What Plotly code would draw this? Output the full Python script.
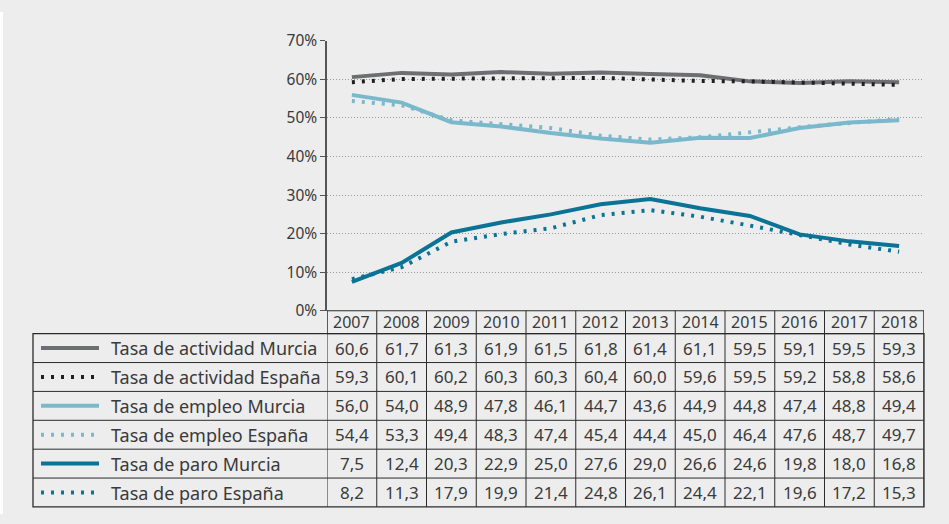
import plotly.graph_objects as go

years = ["2007", "2008", "2009", "2010", "2011", "2012", "2013", "2014", "2015", "2016", "2017", "2018"]

actividad_murcia = [60.6, 61.7, 61.3, 61.9, 61.5, 61.8, 61.4, 61.1, 59.5, 59.1, 59.5, 59.3]
actividad_espana = [59.3, 60.1, 60.2, 60.3, 60.3, 60.4, 60.0, 59.6, 59.5, 59.2, 58.8, 58.6]
empleo_murcia = [56.0, 54.0, 48.9, 47.8, 46.1, 44.7, 43.6, 44.9, 44.8, 47.4, 48.8, 49.4]
empleo_espana = [54.4, 53.3, 49.4, 48.3, 47.4, 45.4, 44.4, 45.0, 46.4, 47.6, 48.7, 49.7]
paro_murcia = [7.5, 12.4, 20.3, 22.9, 25.0, 27.6, 29.0, 26.6, 24.6, 19.8, 18.0, 16.8]
paro_espana = [8.2, 11.3, 17.9, 19.9, 21.4, 24.8, 26.1, 24.4, 22.1, 19.6, 17.2, 15.3]

series = [
    ("Tasa de actividad Murcia", actividad_murcia, "#6d6e71", "solid"),
    ("Tasa de actividad España", actividad_espana, "#231f20", "3px,7px"),
    ("Tasa de empleo Murcia", empleo_murcia, "#7ab8cc", "solid"),
    ("Tasa de empleo España", empleo_espana, "#7ab8cc", "3px,7px"),
    ("Tasa de paro Murcia", paro_murcia, "#0a7396", "solid"),
    ("Tasa de paro España", paro_espana, "#0a7396", "3px,7px"),
]

W, H = 949, 524
# the captured page comes out shifted down and squeezed a bit vertically,
# so target pixel rows are mapped back before converting to paper coords
SHIFT_Y, SCALE_Y = 10, 0.962
FONT = "Noto Sans"
TXT = "#3a3a3a"
BORDER = "#2b2b2b"


def px_x(x):
    return x / W


def px_y(y):
    return 1 - ((y - SHIFT_Y) / SCALE_Y) / H


# table geometry (target pixels)
plot_left, plot_right = 327, 924
plot_top, plot_bottom = 39, 310
head_bottom = 333
row_h = 29
label_left = 33
table_bottom = head_bottom + row_h * len(series)

fig = go.Figure()
xs = list(range(len(years)))
for name, vals, color, dash in series:
    fig.add_trace(go.Scatter(
        x=xs, y=vals, mode="lines", name=name,
        line=dict(color=color, width=4, dash=dash),
        hoverinfo="skip", showlegend=False,
    ))

shapes = []
annotations = []

# white strip at left edge
shapes.append(dict(type="rect", xref="paper", yref="paper", x0=0, x1=px_x(3),
                   y0=0, y1=1, fillcolor="white", line=dict(width=0), layer="below"))

# header row box
shapes.append(dict(type="rect", xref="x", yref="paper", x0=-0.5, x1=len(years) - 0.5,
                   y0=px_y(head_bottom), y1=px_y(plot_bottom), line=dict(color=BORDER, width=1)))
# body box
shapes.append(dict(type="rect", xref="paper", yref="paper", x0=px_x(label_left), x1=px_x(plot_right),
                   y0=px_y(table_bottom), y1=px_y(head_bottom), line=dict(color=BORDER, width=1.3)))
# horizontal row lines
for k in range(1, len(series)):
    y = head_bottom + row_h * k
    shapes.append(dict(type="line", xref="paper", yref="paper", x0=px_x(label_left), x1=px_x(plot_right),
                       y0=px_y(y), y1=px_y(y), line=dict(color=BORDER, width=1)))
# vertical column lines
for i in range(len(years) + 1):
    shapes.append(dict(type="line", xref="x", yref="paper", x0=i - 0.5, x1=i - 0.5,
                       y0=px_y(table_bottom), y1=px_y(plot_bottom), line=dict(color=BORDER, width=1)))

# year labels
for i, yr in enumerate(years):
    annotations.append(dict(x=i, y=px_y((plot_bottom + head_bottom) / 2), xref="x", yref="paper",
                            text=yr, showarrow=False, font=dict(family=FONT, size=16, color=TXT),
                            xanchor="center", yanchor="middle"))

# rows: legend sample, label, values
for k, (name, vals, color, dash) in enumerate(series):
    yc = head_bottom + row_h * (k + 0.5)
    shapes.append(dict(type="line", xref="paper", yref="paper", x0=px_x(41), x1=px_x(99),
                       y0=px_y(yc), y1=px_y(yc),
                       line=dict(color=color, width=4, dash=dash)))
    annotations.append(dict(x=px_x(109), y=px_y(yc), xref="paper", yref="paper", text=name,
                            showarrow=False, font=dict(family=FONT, size=18, color=TXT),
                            xanchor="left", yanchor="middle"))
    for i, v in enumerate(vals):
        annotations.append(dict(x=i, y=px_y(yc), xref="x", yref="paper",
                                text=f"{v:.1f}".replace(".", ","), showarrow=False,
                                font=dict(family=FONT, size=17, color=TXT),
                                xanchor="center", yanchor="middle"))

fig.update_layout(
    width=W, height=H,
    margin=dict(l=0, r=0, t=0, b=0),
    paper_bgcolor="#ededed", plot_bgcolor="#ededed",
    font=dict(family=FONT, color=TXT),
    shapes=shapes, annotations=annotations,
    xaxis=dict(domain=[px_x(plot_left), px_x(plot_right)], range=[-0.5, len(years) - 0.5],
               showticklabels=False, showgrid=False, zeroline=False, ticks=""),
    yaxis=dict(domain=[px_y(plot_bottom), px_y(plot_top)], range=[0, 70], dtick=10,
               ticksuffix="%", showgrid=True, griddash="1px,2px", gridcolor="#9a9a9a", gridwidth=1,
               zeroline=False, showline=True, linecolor="#555555", linewidth=1.5,
               ticks="outside", ticklen=5, tickcolor="#555555",
               tickfont=dict(family=FONT, size=15.5, color=TXT)),
)

fig.write_html("out.html", config={"displayModeBar": False},
               post_script="document.body.style.margin='0';")
